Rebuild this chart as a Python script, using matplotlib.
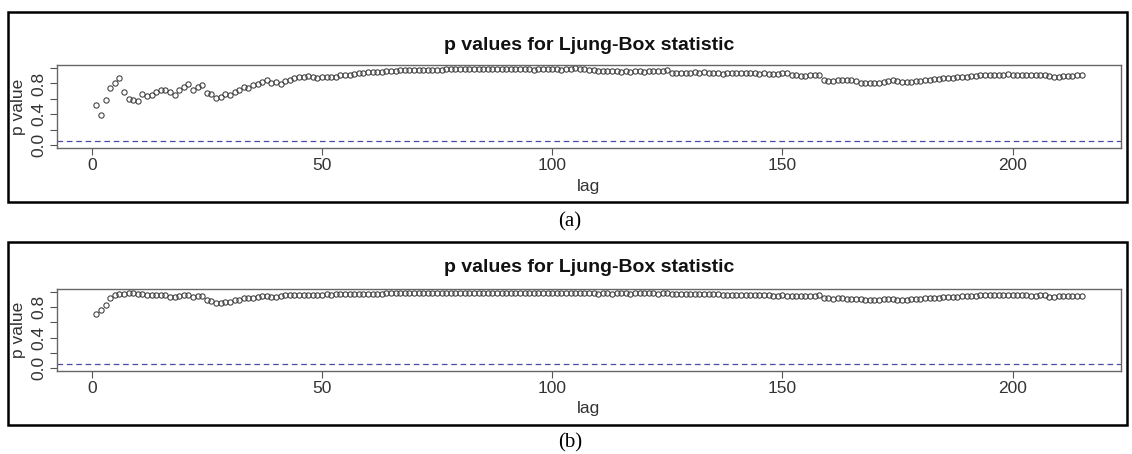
import matplotlib
matplotlib.use("Agg")
import matplotlib.pyplot as plt
from matplotlib.patches import Rectangle
import numpy as np

title_text = "p values for Ljung-Box statistic"
xlabel_text = "lag"
ylabel_text = "p value"
captions = ["(a)", "(b)"]
x_ticks = [0, 50, 100, 150, 200]
y_ticks = [0.0, 0.2, 0.4, 0.6, 0.8, 1.0]
y_tick_labels = ["0.0", "", "0.4", "", "0.8", ""]
threshold = 0.05

pvals_a = [
    0.525, 0.39, 0.585, 0.735, 0.81, 0.865, 0.685, 0.60, 0.59, 0.575,
    0.665, 0.64, 0.65, 0.685, 0.72, 0.71, 0.69, 0.645, 0.71, 0.75,
    0.79, 0.72, 0.76, 0.775, 0.68, 0.665, 0.61, 0.62, 0.665, 0.655,
    0.69, 0.71, 0.76, 0.74, 0.775, 0.795, 0.82, 0.84, 0.81, 0.82,
    0.79, 0.83, 0.85, 0.87, 0.885, 0.89, 0.895, 0.885, 0.87, 0.88,
    0.89, 0.88, 0.89, 0.905, 0.91, 0.915, 0.92, 0.93, 0.94, 0.945,
    0.95, 0.945, 0.955, 0.96, 0.96, 0.965, 0.97, 0.97, 0.975, 0.975,
    0.975, 0.98, 0.975, 0.98, 0.98, 0.98, 0.99, 0.99, 0.99, 0.99,
    0.99, 0.985, 0.99, 0.99, 0.985, 0.99, 0.99, 0.99, 0.985, 0.99,
    0.99, 0.985, 0.99, 0.99, 0.985, 0.98, 0.985, 0.99, 0.985, 0.99,
    0.985, 0.98, 0.985, 0.99, 0.995, 0.99, 0.985, 0.975, 0.97, 0.965,
    0.965, 0.96, 0.96, 0.965, 0.955, 0.96, 0.955, 0.96, 0.96, 0.955,
    0.96, 0.965, 0.96, 0.965, 0.97, 0.94, 0.935, 0.935, 0.94, 0.94,
    0.945, 0.94, 0.945, 0.94, 0.935, 0.93, 0.925, 0.93, 0.93, 0.935,
    0.93, 0.935, 0.935, 0.93, 0.925, 0.93, 0.92, 0.925, 0.925, 0.93,
    0.935, 0.91, 0.905, 0.9, 0.9, 0.905, 0.91, 0.915, 0.85, 0.83,
    0.835, 0.84, 0.845, 0.84, 0.84, 0.835, 0.81, 0.80, 0.80, 0.805,
    0.81, 0.82, 0.835, 0.845, 0.835, 0.82, 0.82, 0.825, 0.83, 0.835,
    0.84, 0.85, 0.855, 0.86, 0.865, 0.87, 0.875, 0.88, 0.885, 0.89,
    0.895, 0.9, 0.905, 0.905, 0.91, 0.915, 0.91, 0.915, 0.92, 0.915,
    0.91, 0.91, 0.905, 0.91, 0.905, 0.91, 0.915, 0.895, 0.89, 0.89,
    0.895, 0.895, 0.9, 0.905, 0.905,
]

pvals_b = [
    0.71, 0.765, 0.83, 0.92, 0.965, 0.975, 0.975, 0.99, 0.99, 0.975,
    0.975, 0.965, 0.955, 0.96, 0.96, 0.955, 0.94, 0.93, 0.95, 0.955,
    0.965, 0.94, 0.95, 0.95, 0.9, 0.88, 0.85, 0.85, 0.875, 0.87,
    0.89, 0.9, 0.92, 0.925, 0.92, 0.935, 0.945, 0.95, 0.94, 0.935,
    0.945, 0.955, 0.96, 0.96, 0.965, 0.96, 0.965, 0.965, 0.965, 0.965,
    0.97, 0.965, 0.97, 0.97, 0.975, 0.975, 0.98, 0.975, 0.98, 0.98,
    0.975, 0.98, 0.98, 0.985, 0.985, 0.99, 0.985, 0.99, 0.99, 0.99,
    0.99, 0.985, 0.99, 0.99, 0.99, 0.985, 0.99, 0.99, 0.99, 0.99,
    0.99, 0.99, 0.985, 0.99, 0.99, 0.99, 0.99, 0.985, 0.99, 0.99,
    0.99, 0.99, 0.99, 0.985, 0.99, 0.99, 0.99, 0.99, 0.985, 0.99,
    0.99, 0.985, 0.99, 0.99, 0.985, 0.985, 0.99, 0.985, 0.985, 0.98,
    0.985, 0.985, 0.98, 0.985, 0.985, 0.985, 0.98, 0.985, 0.985, 0.985,
    0.985, 0.985, 0.98, 0.985, 0.985, 0.98, 0.975, 0.975, 0.98, 0.975,
    0.975, 0.975, 0.975, 0.975, 0.97, 0.97, 0.965, 0.965, 0.96, 0.96,
    0.96, 0.96, 0.965, 0.965, 0.96, 0.96, 0.955, 0.95, 0.95, 0.955,
    0.95, 0.95, 0.945, 0.945, 0.95, 0.945, 0.95, 0.955, 0.925, 0.915,
    0.91, 0.915, 0.915, 0.91, 0.91, 0.905, 0.905, 0.9, 0.895, 0.895,
    0.9, 0.905, 0.91, 0.905, 0.9, 0.89, 0.9, 0.905, 0.905, 0.91,
    0.915, 0.915, 0.92, 0.925, 0.93, 0.935, 0.94, 0.94, 0.945, 0.945,
    0.95, 0.95, 0.955, 0.955, 0.955, 0.96, 0.955, 0.96, 0.96, 0.96,
    0.955, 0.955, 0.955, 0.95, 0.95, 0.955, 0.955, 0.94, 0.94, 0.945,
    0.945, 0.945, 0.95, 0.95, 0.95,
]

lags = np.arange(1, len(pvals_a) + 1)

W, H = 1132, 454
fig = plt.figure(figsize=(W / 100, H / 100), dpi=100)
fig.patch.set_facecolor("white")

def fx(px):
    return px / W

def fy(py):
    return 1 - py / H

sans = ["Liberation Sans", "DejaVu Sans"]
serif = ["Liberation Serif", "DejaVu Serif"]
lab_size = 12.5

panels = [
    dict(vals=pvals_a, frame=(8, 12, 1127, 202), ax=(57, 65, 1121, 148), cap_y=222, title_y=45, xlab_y=186),
    dict(vals=pvals_b, frame=(8, 242, 1127, 425), ax=(57, 289, 1121, 371), cap_y=443, title_y=268, xlab_y=409),
]

for i, p in enumerate(panels):
    x0, y0, x1, y1 = p["frame"]
    fig.add_artist(Rectangle((fx(x0), fy(y1)), fx(x1) - fx(x0), fy(y0) - fy(y1),
                             transform=fig.transFigure, fill=False, edgecolor="black", linewidth=1.8))
    ax0, ay0, ax1, ay1 = p["ax"]
    ax = fig.add_axes([fx(ax0), fy(ay1), fx(ax1) - fx(ax0), fy(ay0) - fy(ay1)])
    ax.plot(lags, p["vals"], "o", mfc="none", mec="#3a3a3a", ms=3.8, mew=0.75)
    ax.axhline(threshold, color="#4a4aa8", linestyle=(0, (4.5, 3)), linewidth=0.9)
    n = len(p["vals"])
    ext = 0.04 * (n - 1)
    ax.set_xlim(1 - ext, n + ext)
    ax.set_ylim(-0.04, 1.04)
    ax.set_xticks(x_ticks)
    ax.set_xticklabels([str(t) for t in x_ticks], fontfamily=sans, fontsize=lab_size, color="#333333")
    ax.set_yticks(y_ticks)
    ax.set_yticklabels(y_tick_labels, fontfamily=sans, fontsize=lab_size, color="#333333",
                       rotation=90, va="center")
    ax.tick_params(axis="both", direction="out", length=5, width=0.8, color="#555555", pad=2.5)
    for s in ax.spines.values():
        s.set_color("#666666")
        s.set_linewidth(1.0)
    fig.text(fx((ax0 + ax1) / 2), fy(p["title_y"]), title_text, ha="center", va="center",
             fontfamily=sans, fontsize=14, fontweight="bold", color="#111111")
    fig.text(fx((ax0 + ax1) / 2), fy(p["xlab_y"]), xlabel_text, ha="center", va="center",
             fontfamily=sans, fontsize=lab_size, color="#333333")
    fig.text(fx(18), fy((ay0 + ay1) / 2), ylabel_text, ha="center", va="center", rotation=90,
             fontfamily=sans, fontsize=lab_size, color="#333333")
    fig.text(fx(570), fy(p["cap_y"]), captions[i], ha="center", va="center",
             fontfamily=serif, fontsize=15, color="black")

fig.savefig("out.png", dpi=100, facecolor="white")
